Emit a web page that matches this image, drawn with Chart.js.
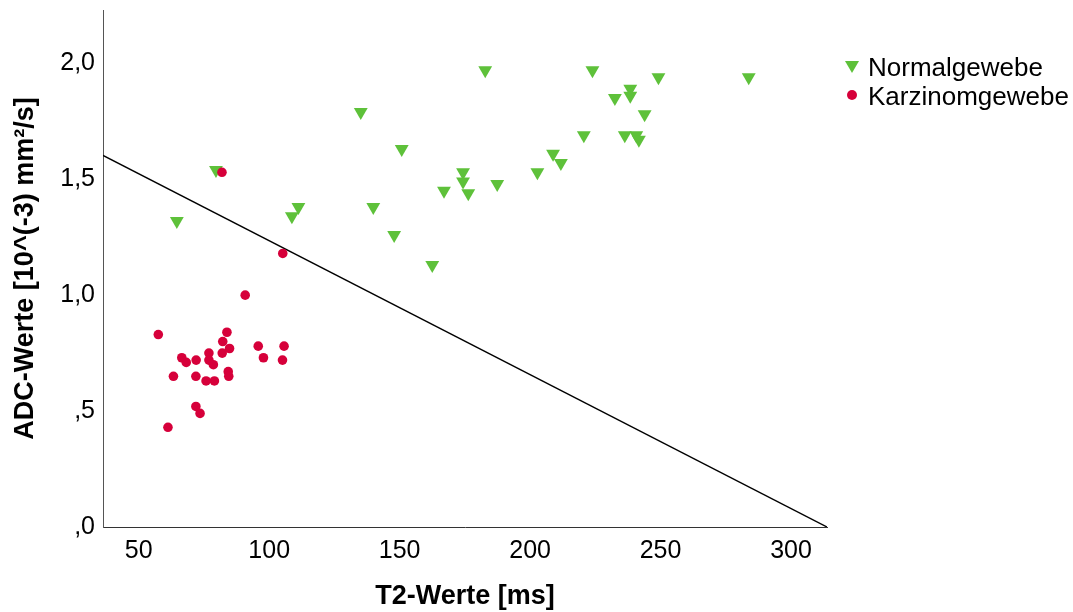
<!DOCTYPE html>
<html>
<head>
<meta charset="utf-8">
<script src="https://cdn.jsdelivr.net/npm/chart.js@4"></script>
<style>
  body { margin: 0; background: #fff; }
  #wrap { position: relative; width: 1073px; height: 612px; font-family: "Liberation Sans", Arial, sans-serif; }
  .leg { position: absolute; left: 868px; font-size: 26px; line-height: 30px; color: #000; }
  .tri { position: absolute; width: 0; height: 0; border-left: 7px solid transparent; border-right: 7px solid transparent; border-top: 12px solid #5ec13a; }
  .dot { position: absolute; width: 10px; height: 10px; border-radius: 50%; background: #d6003a; }
</style>
</head>
<body>
<div id="wrap">
  <canvas id="chart" width="1073" height="612"></canvas>
  <div class="tri" style="left:845px; top:61px;"></div>
  <div class="leg" style="top:52px;">Normalgewebe</div>
  <div class="dot" style="left:847px; top:90px;"></div>
  <div class="leg" style="top:81px;">Karzinomgewebe</div>
</div>
<script>
// Normalgewebe (T2 ms, ADC 10^-3 mm²/s)
const normalT2 = [135.1, 150.8, 79.6, 64.6, 111.2, 108.7, 139.9, 147.9, 162.5, 167.0, 174.3, 174.3, 176.3,
                  182.8, 223.9, 249.2, 283.8, 238.4, 238.4, 232.5, 243.9, 220.6, 236.3, 240.7, 241.7,
                  208.8, 211.8, 202.8, 187.4];
const normalADC = [1.79, 1.63, 1.54, 1.32, 1.38, 1.34, 1.38, 1.26, 1.13, 1.45, 1.53, 1.49, 1.44,
                   1.97, 1.97, 1.94, 1.94, 1.89, 1.86, 1.85, 1.78, 1.69, 1.69, 1.69, 1.67,
                   1.61, 1.57, 1.53, 1.48];

// Karzinomgewebe
const tumorT2 = [57.5, 83.8, 82.2, 84.8, 95.8, 105.7, 82.0, 76.9, 76.9, 78.6, 66.5, 68.2, 72.0, 97.8,
                 105.1, 63.3, 71.9, 84.3, 84.5, 75.8, 79.0, 71.9, 73.5, 61.2, 81.9, 105.2, 90.8];
const tumorADC = [0.83, 0.84, 0.80, 0.77, 0.78, 0.78, 0.75, 0.75, 0.72, 0.70, 0.73, 0.71, 0.72, 0.73,
                  0.72, 0.65, 0.65, 0.67, 0.65, 0.63, 0.63, 0.52, 0.49, 0.43, 1.53, 1.18, 1.00];

// separating line
const lineT2 = [36.3, 313.8];
const lineADC = [1.603, 0];

const xTicks = [50, 100, 150, 200, 250, 300];
const yTicks = [0, 0.5, 1.0, 1.5, 2.0];
const yTickLabels = [',0', ',5', '1,0', '1,5', '2,0'];

const toPoints = (xs, ys) => xs.map((x, i) => ({ x: x, y: ys[i] }));
const FONT = '"Liberation Sans", Arial, sans-serif';

new Chart(document.getElementById('chart'), {
    type: 'scatter',
    data: {
        datasets: [
            {
                label: 'Normalgewebe',
                data: toPoints(normalT2, normalADC),
                pointStyle: 'triangle',
                rotation: 180,
                pointRadius: 8,
                backgroundColor: '#5ec13a',
                borderColor: '#5ec13a',
                borderWidth: 0,
                order: 2
            },
            {
                label: 'Karzinomgewebe',
                data: toPoints(tumorT2, tumorADC),
                pointStyle: 'circle',
                pointRadius: 4.8,
                backgroundColor: '#d6003a',
                borderColor: '#d6003a',
                borderWidth: 0,
                order: 1
            },
            {
                type: 'line',
                label: 'Trennlinie',
                data: toPoints(lineT2, lineADC),
                borderColor: '#000',
                borderWidth: 1.4,
                pointRadius: 0,
                fill: false,
                order: 3
            }
        ]
    },
    options: {
        responsive: false,
        animation: false,
        layout: { padding: { top: 10, right: 246, left: 0, bottom: 0 } },
        plugins: {
            legend: { display: false },
            tooltip: { enabled: false }
        },
        scales: {
            x: {
                type: 'linear',
                min: 36.3,
                max: 313.8,
                afterBuildTicks: (s) => { s.ticks = xTicks.map(v => ({ value: v })); },
                afterFit: (s) => { s.height = 85; s.paddingLeft = 0; s.paddingRight = 0; },
                grid: { display: true, drawOnChartArea: false, drawTicks: false, color: '#444' },
                border: { display: true, color: '#333', width: 1 },
                ticks: { color: '#000', font: { family: FONT, size: 25 }, padding: 9, maxRotation: 0 },
                title: { display: true, text: 'T2-Werte [ms]', color: '#000',
                         font: { family: FONT, size: 27, weight: 'bold' }, padding: { top: 0, bottom: -1 } }
            },
            y: {
                type: 'linear',
                min: 0,
                max: 2.23,
                afterBuildTicks: (s) => { s.ticks = yTicks.map(v => ({ value: v })); },
                afterFit: (s) => { s.width = 103; s.paddingTop = 0; s.paddingBottom = 0; },
                grid: { display: true, drawOnChartArea: false, drawTicks: false, color: '#444' },
                border: { display: true, color: '#555', width: 1 },
                ticks: {
                    color: '#000', font: { family: FONT, size: 25 }, padding: 8,
                    callback: (v) => { const i = yTicks.indexOf(v); return i >= 0 ? yTickLabels[i] : ''; }
                },
                title: { display: true, text: 'ADC-Werte [10^(-3) mm²/s]', color: '#000',
                         font: { family: FONT, size: 27, weight: 'bold' }, padding: { top: 9, bottom: 0 } }
            }
        }
    }
});
</script>
</body>
</html>
